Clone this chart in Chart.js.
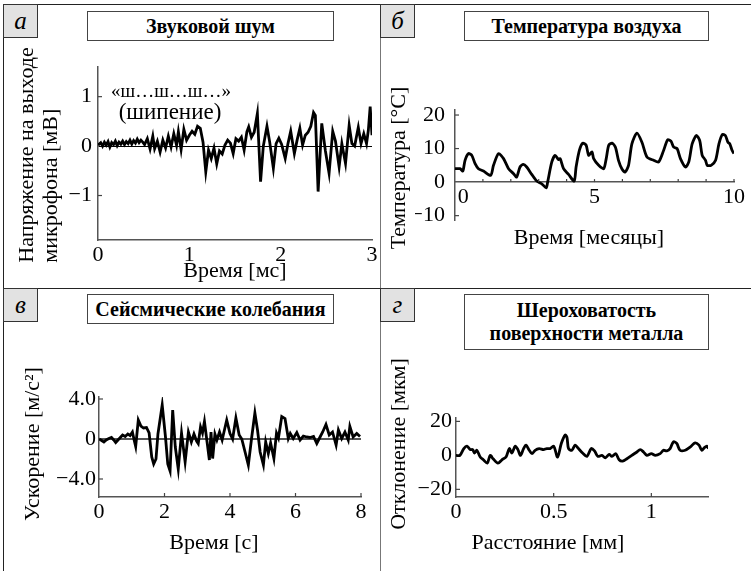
<!DOCTYPE html>
<html>
<head>
<meta charset="utf-8">
<script src="https://cdn.jsdelivr.net/npm/chart.js@4.4.0/dist/chart.umd.min.js"></script>
<style>
  html, body { margin: 0; padding: 0; background: #fff; }
  #fig { position: relative; width: 751px; height: 571px; overflow: hidden; font-family: 'Liberation Serif', serif; color: #000; }
  canvas { position: absolute; }
  .ln { position: absolute; background: #222; }
  .lbl { position: absolute; width: 35px; height: 34px; background: #e2e2e2; border: 1px solid #333; box-sizing: border-box;
         font-style: italic; font-size: 25px; display: flex; align-items: center; justify-content: center; z-index: 2; }
  .ttl { position: absolute; background: #fff; border: 1px solid #444; box-sizing: border-box; font-weight: bold; font-size: 20px;
         line-height: 23px; text-align: center; display: flex; align-items: center; justify-content: center; z-index: 2; }
  .t { position: absolute; font-size: 22px; line-height: 1; white-space: nowrap; transform: translate(-50%, -50%); z-index: 2; }
  .rot { transform: translate(-50%, -50%) rotate(-90deg); }
</style>
</head>
<body>
<div id="fig">
  <!-- frame -->
  <div class="ln" style="left:3px;top:4px;width:748px;height:1px"></div>
  <div class="ln" style="left:3px;top:4px;width:1px;height:567px"></div>
  <div class="ln" style="left:380px;top:4px;width:1px;height:567px;background:#777"></div>
  <div class="ln" style="left:3px;top:288px;width:748px;height:1px"></div>

  <canvas id="cA" width="379" height="287" style="left:0;top:0"></canvas>
  <canvas id="cB" width="372" height="287" style="left:379px;top:0"></canvas>
  <canvas id="cC" width="379" height="284" style="left:0;top:287px"></canvas>
  <canvas id="cD" width="372" height="284" style="left:379px;top:287px"></canvas>

  <div class="lbl" style="left:3px;top:4px">а</div>
  <div class="lbl" style="left:380px;top:4px">б</div>
  <div class="lbl" style="left:3px;top:288px">в</div>
  <div class="lbl" style="left:380px;top:288px">г</div>

  <div class="ttl" style="left:87px;top:11px;width:247px;height:30px">Звуковой шум</div>
  <div class="ttl" style="left:464px;top:11px;width:245px;height:30px">Температура воздуха</div>
  <div class="ttl" style="left:87px;top:294px;width:247px;height:30px">Сейсмические колебания</div>
  <div class="ttl" style="left:464px;top:294px;width:245px;height:56px">Шероховатость<br>поверхности металла</div>

  <!-- axis titles -->
  <div class="t rot" style="left:38px;top:155px;line-height:24px;text-align:left">Напряжение на выходе<br>микрофона [мВ]</div>
  <div class="t" style="left:235px;top:270px">Время [мс]</div>
  <div class="t" style="left:171px;top:90px;font-size:19px">«ш…ш…ш…»</div>
  <div class="t" style="left:170px;top:111px;font-size:23px">(шипение)</div>

  <div class="t rot" style="left:398px;top:168px">Температура [°C]</div>
  <div class="t" style="left:589px;top:237px">Время [месяцы]</div>

  <div class="t rot" style="left:32px;top:444px">Ускорение [м/с²]</div>
  <div class="t" style="left:214px;top:542px">Время [с]</div>

  <div class="t rot" style="left:398px;top:444px">Отклонение [мкм]</div>
  <div class="t" style="left:548px;top:542px">Расстояние [мм]</div>
</div>
<script>
// а: sound noise, mV vs ms
const noiseT = [0,0.03,0.05,0.07,0.09,0.11,0.13,0.15,0.17,0.19,0.21,0.23,0.25,0.27,0.29,0.31,0.33,0.35,0.37,0.39,0.41,0.43,0.45,0.47,0.49,
  0.51,0.54,0.57,0.60,0.62,0.65,0.68,0.71,0.74,0.77,0.80,0.83,0.86,0.88,0.91,0.94,0.97,1.00,1.03,1.06,1.09,1.12,1.15,1.18,1.21,1.24,1.27,
  1.30,1.33,1.36,1.39,1.42,1.45,1.48,1.51,1.54,1.57,1.60,1.63,1.65,1.68,1.71,1.745,1.78,1.81,1.85,1.88,1.92,1.95,1.98,2.01,2.05,2.08,2.11,
  2.15,2.18,2.21,2.24,2.27,2.30,2.33,2.36,2.38,2.41,2.45,2.49,2.53,2.57,2.60,2.64,2.67,2.71,2.75,2.78,2.81,2.85,2.88,2.91,2.94,2.96,2.98,3.00];
const noiseV = [0.02,0.07,0.00,0.08,0.02,0.09,-0.02,0.07,0.03,0.10,0.01,0.08,0.04,0.10,0.03,0.09,0.05,0.12,0.04,0.11,0.06,0.14,0.07,0.12,0.08,
  0.03,0.15,-0.06,0.20,-0.05,0.10,-0.12,0.12,-0.04,0.20,-0.02,0.25,0.02,0.29,-0.07,0.34,0.12,0.22,0.30,0.24,0.40,0.36,0.08,-0.52,-0.08,-0.25,-0.04,
  -0.36,-0.10,-0.16,0.02,0.12,0.06,-0.15,0.15,0.10,0.18,-0.08,0.29,0.39,0.18,0.28,0.66,-0.72,0.00,0.40,0.08,-0.45,0.05,0.16,0.04,-0.25,0.05,0.30,
  -0.15,0.12,0.36,0.02,0.22,0.28,0.40,0.68,0.62,-0.92,0.46,-0.10,-0.55,0.30,0.10,-0.42,0.05,-0.35,0.42,0.05,0.00,0.38,0.05,0.25,0.05,0.32,0.80,0.22];

// б: air temperature, °C vs months
const tempT = [0,0.18,0.28,0.36,0.48,0.60,0.72,0.84,1.02,1.28,1.38,1.56,1.74,1.92,2.10,2.21,2.33,2.45,2.57,2.75,2.93,3.11,3.27,3.32,3.47,3.59,
  3.71,3.77,3.89,4.07,4.27,4.34,4.46,4.58,4.70,4.79,4.91,4.97,5.15,5.33,5.42,5.51,5.63,5.75,5.86,5.98,6.10,6.22,6.34,6.52,6.70,6.88,7.12,7.30,
  7.48,7.62,7.74,7.84,7.96,8.08,8.26,8.38,8.50,8.65,8.77,8.86,8.98,9.04,9.18,9.34,9.46,9.58,9.69,9.78,9.85,9.93,10.0];
const tempV = [4.0,4.0,3.3,6.5,8.5,8.0,5.5,4.0,3.3,2.0,5.0,8.5,7.0,4.0,2.5,1.5,4.5,5.3,4.5,2.3,0.3,-0.5,-1.7,0.0,6.0,8.0,
  6.7,7.0,4.0,2.3,0.3,4.5,9.5,11.6,11.0,8.0,9.0,7.0,5.0,4.0,7.0,11.0,11.6,10.4,6.5,4.0,3.0,5.0,11.4,14.6,11.9,7.5,6.5,6.0,
  9.5,12.6,12.2,10.4,10.0,7.0,4.5,6.0,11.4,13.9,12.4,8.0,6.5,5.0,5.0,6.5,11.4,14.2,13.9,11.9,11.4,9.5,8.5];

// в: seismic acceleration, m/s² vs s
const seisT = [0,0.08,0.15,0.22,0.30,0.38,0.45,0.51,0.58,0.65,0.72,0.80,0.88,0.95,1.02,1.08,1.12,1.20,1.28,1.36,1.45,1.53,1.61,1.67,1.74,
  1.80,1.93,2.03,2.10,2.17,2.25,2.33,2.42,2.52,2.63,2.73,2.82,2.90,2.98,3.03,3.10,3.16,3.22,3.30,3.37,3.42,3.47,3.54,3.60,3.68,3.76,3.90,
  4.00,4.08,4.18,4.28,4.36,4.46,4.56,4.66,4.76,4.84,4.92,5.02,5.09,5.17,5.24,5.34,5.42,5.48,5.58,5.68,5.78,5.84,5.93,6.04,6.14,6.24,6.34,
  6.44,6.55,6.65,6.75,6.83,6.93,7.03,7.13,7.24,7.31,7.41,7.51,7.61,7.66,7.76,7.87,7.97];
const seisV = [0.0,-0.15,-0.3,-0.1,0.05,0.15,-0.1,-0.35,-0.1,0.15,0.4,0.25,0.5,0.35,0.7,-0.2,-0.75,1.9,1.3,1.1,1.15,0.6,-1.8,-2.5,-2.0,
  0.5,3.4,0.2,-2.5,-3.2,2.9,-0.8,-3.0,0.6,-2.3,0.7,-0.3,0.5,-0.2,-0.45,1.2,0.6,1.75,-0.3,-2.1,0.7,-1.95,0.5,-0.1,0.7,-0.1,1.9,
  0.55,0.0,2.1,0.4,0.0,-1.3,-2.6,0.1,2.6,0.9,-1.3,-2.6,-0.3,-1.45,-0.4,-1.95,0.6,0.1,2.25,2.05,0.05,0.55,0.05,0.65,-0.1,0.3,0.2,
  0.15,0.25,-0.45,0.2,0.7,1.45,0.4,0.7,-0.6,0.9,0.05,0.7,-0.1,1.25,0.2,0.55,0.25];

// г: surface roughness, µm vs mm
const roughX = [0,0.02,0.04,0.056,0.073,0.085,0.095,0.107,0.124,0.14,0.16,0.175,0.19,0.215,0.235,0.256,0.273,0.286,0.303,0.317,0.33,0.346,
  0.358,0.375,0.389,0.405,0.426,0.448,0.465,0.482,0.50,0.52,0.539,0.559,0.568,0.576,0.593,0.61,0.627,0.648,0.67,0.692,0.709,0.726,0.747,
  0.764,0.784,0.798,0.818,0.835,0.853,0.875,0.90,0.926,0.943,0.96,0.977,1.0,1.02,1.045,1.062,1.079,1.096,1.113,1.13,1.147,1.173,1.20,1.224,
  1.244,1.258,1.272,1.284,1.292];
const roughV = [0,0,4,5.4,3.4,3.4,1.4,3,-1,-2.6,-4.6,0,-2,-4.6,-2.6,-1,4,1.4,5.4,3.4,0,4,
  6,3,1,3,4,3.4,4,4,5.4,-1,7,12,10.6,4,3,6,4,1.4,-0.6,4,2.6,-0.6,0,
  -1.4,0.6,-0.6,1,-2.6,-3.4,-2,0,2,3.4,2,0,1,0,1,3,2.6,4,8,7,3,3,5,7.4,
  6,3,4.6,5.4,4];

Chart.defaults.font.family = "'Liberation Serif', serif";
Chart.defaults.color = '#000';

// short tick marks drawn inside the axes
const innerTicks = {
  id: 'innerTicks',
  afterDraw(chart, args, opts) {
    const ctx = chart.ctx;
    ctx.save();
    ctx.strokeStyle = '#444';
    ctx.lineWidth = 1.2;
    for (const id of ['x', 'y']) {
      const s = chart.scales[id];
      const len = opts[id];
      if (!len) continue;
      const base = id === 'y' ? s.right
        : (typeof s.options.position === 'object' ? chart.scales.y.getPixelForValue(0) : s.top);
      s.ticks.forEach((t, i) => {
        if ((opts.skip || []).includes(id + t.value)) return;
        const p = s.getPixelForTick(i);
        ctx.beginPath();
        if (id === 'y') { ctx.moveTo(base, p); ctx.lineTo(base + len, p); }
        else { ctx.moveTo(p, base); ctx.lineTo(p, base - len); }
        ctx.stroke();
      });
    }
    ctx.restore();
  }
};

function fixedSize(size) {
  return function (s) {
    if (s.isHorizontal()) s.height = size; else s.width = size;
    s.paddingLeft = s.paddingRight = s.paddingTop = s.paddingBottom = 0;
  };
}

const minus = v => String(v).replace('-', '\u2212');
const noColor = 'rgba(0,0,0,0)';

function lineChart(id, xs, ys, o) {
  const pts = xs.map((x, i) => ({ x, y: ys[i] }));
  const zero = o.zero;
  return new Chart(document.getElementById(id), {
    type: 'line',
    data: { datasets: [{ data: pts, borderColor: '#000', borderWidth: 2.8, pointRadius: 0, tension: o.tension || 0, fill: false }] },
    options: {
      responsive: false,
      animation: false,
      devicePixelRatio: 1,
      layout: { padding: o.pad },
      plugins: { legend: { display: false }, tooltip: { enabled: false }, innerTicks: o.inner },
      scales: {
        x: {
          type: 'linear', min: o.x[0], max: o.x[1], position: o.xPos || 'bottom',
          afterFit: fixedSize(40),
          border: { color: '#555', width: 1.5 },
          grid: { drawTicks: false, color: noColor },
          ticks: { stepSize: o.x[2], includeBounds: false, autoSkip: false, maxRotation: 0, padding: 4,
                   font: { size: 22, lineHeight: 1 }, callback: o.xFmt || (v => minus(v)) }
        },
        y: {
          type: 'linear', min: o.y[0], max: o.y[1],
          afterFit: fixedSize(o.yW),
          border: { color: '#555', width: 1.5 },
          grid: { drawTicks: false, lineWidth: zero ? zero.width : 1,
                  color: c => (zero && c.tick && c.tick.value === 0) ? zero.color : noColor },
          ticks: { stepSize: o.y[2], includeBounds: false, padding: o.yPad,
                   font: { size: 22, lineHeight: 1 }, callback: o.yFmt || (v => minus(v)) }
        }
      }
    },
    plugins: [innerTicks]
  });
}

lineChart('cA', noiseT, noiseV, {
  x: [0, 3, 1], y: [-1.9, 1.6, 1], yW: 50, yPad: 6,
  pad: { left: 48, right: 7, top: 67, bottom: 7 },
  zero: { color: '#000', width: 1 },
  inner: { y: 4, skip: ['y0'] }
});

lineChart('cB', tempT, tempV, {
  x: [0, 10, 1], y: [-11.3, 21.5, 10], yW: 40, yPad: 10, xPos: { y: 0 }, tension: 0.25,
  pad: { left: 36, right: 17, top: 110, bottom: 67 },
  xFmt: v => v % 5 === 0 ? (v === 0 ? '   0' : String(v)) : '',
  inner: { x: 3, y: 4, skip: ['y0', 'x0'] }
});

lineChart('cC', seisT, seisV, {
  x: [0, 8, 2], y: [-5.8, 4.2, 4], yW: 50, yPad: 3,
  pad: { left: 49, right: 18, top: 110, bottom: 34 },
  zero: { color: '#555', width: 2 },
  yFmt: v => v === 0 ? '0' : minus(v.toFixed(1)),
  inner: { x: 4, y: 4, skip: ['y0', 'x0'] }
});

lineChart('cD', roughX, roughV, {
  x: [0, 1.29, 0.5], y: [-24.5, 22, 20], yW: 40, yPad: 4, tension: 0.3,
  pad: { left: 37, right: 43, top: 131, bottom: 34 },
  inner: { x: 4, y: 4, skip: ['y0', 'x0'] }
});
</script>
</body>
</html>
